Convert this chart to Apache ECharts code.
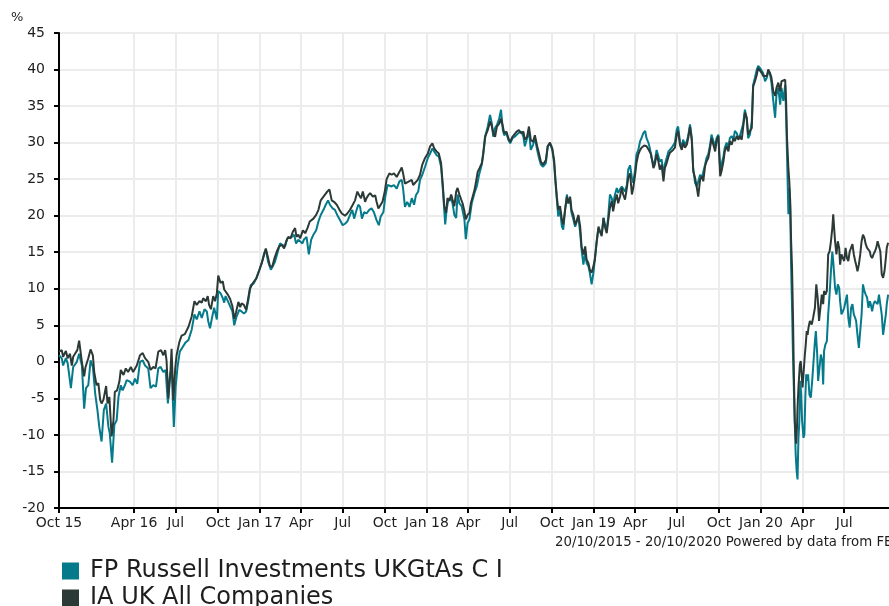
<!DOCTYPE html>
<html>
<head>
<meta charset="utf-8">
<script src="https://cdn.jsdelivr.net/npm/echarts@6/dist/echarts.min.js"></script>
<style>
html,body{margin:0;padding:0;background:#fff;overflow:hidden;}
/* the source picture is cut off a few pixels short of the plot's right end */
#chart{width:895px;height:606px;}
</style>
</head>
<body>
<div id="chart"></div>
<script>
// performance since 20/10/2015, points are [days since start, %]
var startDate = '2015-10-20';
var endDate = '2020-10-20';

var fundName = 'FP Russell Investments UKGtAs C I';
var sectorName = 'IA UK All Companies';

var fundPoints = [[0,0.9],[6,0.5],[9,-0.5],[15,0.5],[19,-0.2],[26,-3.6],[31,-0.7],[39,0],[44,1.1],[50,-0.5],[55,-6.4],[59,-3.6],[64,-3.2],[69,0.2],[74,-0.7],[79,-4.3],[84,-6.6],[88,-8.9],[93,-10.9],[98,-6.6],[103,-5.7],[108,-8.9],[111,-9.8],[116,-13.8],[121,-8.6],[126,-8.0],[130,-4.8],[135,-3.2],[139,-3.9],[144,-3.2],[148,-2.5],[155,-2.7],[161,-3.2],[166,-2.3],[171,-3.0],[177,0],[183,0.2],[188,-0.5],[195,-0.9],[200,-3.6],[206,-3.2],[212,-3.4],[217,-0.9],[222,-0.7],[228,-1.4],[233,-1.1],[238,-5.7],[241,-2.5],[246,-0.7],[251,-8.9],[255,-3.4],[259,-0.7],[264,1.4],[270,2.0],[276,2.6],[283,3.0],[290,4.4],[296,6.5],[301,5.8],[307,6.9],[312,6.0],[318,7.2],[323,6.9],[326,5.6],[330,4.6],[335,6.2],[339,7.4],[345,5.8],[348,9.7],[353,9.4],[358,8.7],[361,8.1],[364,9.0],[369,8.3],[374,7.6],[379,6.9],[383,5.0],[388,6.2],[394,7.1],[399,6.9],[404,6.6],[409,6.9],[414,8.5],[419,10.5],[425,10.7],[431,11.4],[438,12.6],[443,13.5],[448,14.8],[452,15.4],[457,13.7],[463,12.6],[467,12.6],[472,13.7],[477,14.8],[483,16.2],[488,16.0],[494,15.8],[499,16.9],[503,16.7],[509,17.1],[514,17.4],[518,16.2],[523,16.7],[527,16.9],[532,16.2],[535,16.7],[541,17.1],[546,14.7],[551,16.7],[556,17.4],[562,18.0],[567,19.2],[572,20.1],[578,20.8],[583,21.5],[588,22.1],[592,21.5],[598,21.0],[603,20.8],[608,20.1],[614,19.4],[620,18.7],[625,18.9],[630,19.2],[636,20.1],[641,20.8],[645,19.6],[649,20.5],[654,21.5],[658,21.2],[662,19.6],[667,20.5],[672,20.3],[678,20.8],[683,21.0],[688,20.5],[694,19.4],[699,18.7],[703,19.9],[709,20.5],[713,22.6],[718,24.2],[722,24.4],[727,24.0],[732,24.2],[738,23.7],[744,24.7],[749,24.9],[752,23.7],[756,21.2],[761,21.9],[766,21.2],[771,22.4],[776,21.5],[780,22.8],[785,23.3],[789,24.9],[794,25.6],[800,26.7],[806,27.9],[811,28.5],[816,29.2],[820,28.8],[825,28.3],[830,28.1],[835,26.7],[839,23.5],[844,18.8],[847,20.8],[851,22.2],[857,22.2],[860,21.7],[864,20.1],[868,19.7],[871,22.9],[875,21.7],[880,21.3],[886,19.5],[889,16.8],[893,19.0],[897,19.5],[902,21.7],[908,23.1],[913,24.0],[918,25.6],[924,27.0],[927,28.3],[932,31.0],[937,32.2],[942,33.8],[946,32.6],[949,30.8],[953,32.0],[957,32.4],[962,33.3],[966,34.5],[970,31.7],[973,31.0],[978,31.3],[982,30.4],[986,29.9],[991,30.6],[996,30.8],[1004,31.3],[1010,31.5],[1015,30.8],[1018,29.5],[1023,30.6],[1027,31.7],[1031,29.0],[1036,29.7],[1040,30.6],[1045,29.0],[1049,27.9],[1053,27.0],[1058,26.7],[1064,27.2],[1068,29.5],[1073,29.9],[1078,29.0],[1082,27.2],[1085,24.5],[1088,22.2],[1091,19.9],[1095,20.8],[1099,18.5],[1102,18.1],[1106,20.8],[1110,22.9],[1113,21.7],[1117,22.2],[1120,20.4],[1124,19.5],[1128,18.5],[1131,18.6],[1135,19.9],[1139,17.6],[1142,15.4],[1146,13.3],[1150,15.0],[1153,13.5],[1157,13.1],[1160,12.2],[1164,10.6],[1168,12.2],[1171,14.0],[1175,16.3],[1179,18.3],[1182,17.9],[1186,17.4],[1190,19.7],[1193,18.8],[1197,18.1],[1200,19.7],[1204,22.9],[1208,22.4],[1211,21.5],[1215,22.9],[1219,23.8],[1222,23.1],[1226,23.6],[1230,24.0],[1233,24.2],[1237,23.3],[1241,24.2],[1244,26.3],[1248,26.9],[1252,25.2],[1255,24.5],[1259,26.3],[1262,28.4],[1266,29.0],[1270,30.2],[1273,30.6],[1277,31.3],[1281,31.6],[1284,30.6],[1288,30.0],[1291,29.3],[1295,27.9],[1299,27.0],[1302,27.4],[1306,29.0],[1310,28.1],[1313,27.4],[1317,27.7],[1321,25.6],[1324,27.0],[1328,27.9],[1332,28.8],[1335,29.0],[1339,29.3],[1342,29.5],[1346,30.0],[1350,31.8],[1353,32.2],[1357,30.2],[1361,29.3],[1364,30.4],[1368,29.7],[1372,30.2],[1375,30.9],[1379,32.5],[1383,30.6],[1386,26.5],[1390,24.5],[1394,24.0],[1397,23.8],[1401,25.6],[1405,25.2],[1408,25.4],[1412,27.0],[1415,27.9],[1419,28.4],[1423,29.7],[1426,31.1],[1430,30.2],[1434,29.5],[1437,30.6],[1441,31.1],[1445,26.3],[1448,26.5],[1452,28.1],[1455,29.3],[1459,30.0],[1463,29.3],[1466,30.6],[1470,30.9],[1474,30.4],[1477,31.6],[1481,31.3],[1485,30.6],[1488,30.9],[1492,31.1],[1495,32.5],[1499,34.5],[1503,33.2],[1506,30.6],[1510,31.1],[1514,32.9],[1517,37.9],[1521,38.9],[1525,40.0],[1528,40.5],[1532,40.2],[1536,39.8],[1539,39.5],[1543,38.4],[1547,38.9],[1550,39.8],[1554,39.3],[1557,38.2],[1561,35.7],[1565,33.4],[1568,36.6],[1572,37.5],[1576,35.2],[1579,37.5],[1583,35.7],[1587,37.9],[1589,33.8],[1591,28.4],[1594,20.2],[1596,23.8],[1598,21.1],[1600,12.9],[1602,7.4],[1604,1.0],[1607,-6.3],[1610,-12.7],[1612,-14.9],[1614,-16.1],[1616,-10.4],[1618,-8.1],[1620,-2.6],[1622,-4.5],[1624,-8.1],[1627,-10.4],[1629,-9.9],[1631,-4.9],[1633,-1.7],[1635,-2.6],[1637,-1.7],[1640,-4.5],[1643,-4.9],[1646,-2.6],[1649,0.1],[1652,2.8],[1654,4.2],[1657,1.0],[1659,-2.6],[1662,-0.8],[1665,1.0],[1668,0.1],[1670,-3.1],[1672,1.5],[1675,2.4],[1678,2.8],[1681,6.5],[1684,9.2],[1687,12.4],[1690,15.1],[1692,13.8],[1694,12.0],[1696,10.1],[1699,9.2],[1702,10.6],[1705,10.1],[1707,8.3],[1710,6.5],[1713,6.9],[1716,7.4],[1719,8.3],[1722,9.2],[1725,6.0],[1728,4.7],[1731,7.4],[1734,7.9],[1737,6.5],[1740,6.0],[1742,5.6],[1745,3.7],[1748,1.9],[1751,4.2],[1754,6.5],[1757,10.6],[1760,9.7],[1763,9.2],[1766,8.8],[1769,7.4],[1772,8.3],[1774,7.9],[1777,6.9],[1780,7.9],[1783,8.3],[1786,8.1],[1789,7.9],[1792,9.2],[1795,9.4],[1798,6.5],[1801,3.7],[1804,5.1],[1807,6.5],[1809,7.9],[1812,9.2]];

var sectorPoints = [[0,1.4],[6,1.6],[9,0.7],[15,1.5],[19,0.5],[24,1.1],[28,-0.5],[31,0.7],[35,1.1],[40,1.6],[44,2.9],[50,0],[55,-2.0],[58,-0.7],[64,0.5],[69,1.7],[74,0.9],[77,-1.4],[82,-3.2],[86,-2.9],[90,-5.2],[93,-5.7],[97,-5.2],[103,-3.3],[106,-5.7],[110,-4.8],[115,-10.2],[119,-8.0],[122,-4.1],[127,-3.9],[132,-2.7],[135,-1.1],[141,-1.8],[146,-0.9],[151,-1.4],[157,-0.7],[162,-1.4],[170,-0.5],[177,0.9],[183,1.2],[188,0.5],[195,0],[200,-1.1],[206,-0.7],[211,-0.9],[217,1.4],[223,1.6],[228,0.9],[232,1.6],[235,0.2],[239,-5.0],[243,-2.0],[246,1.8],[250,-5.3],[254,-0.9],[257,0.9],[263,2.7],[268,3.6],[275,3.8],[283,4.8],[290,6.2],[296,8.3],[301,7.8],[307,8.3],[312,8.1],[315,8.7],[321,8.3],[325,9.0],[328,7.8],[332,7.2],[337,9.0],[341,8.3],[345,9.4],[348,11.8],[353,10.8],[358,11.0],[361,9.9],[365,10.1],[369,9.2],[374,8.6],[379,7.6],[383,5.9],[387,6.8],[392,8.2],[396,7.5],[399,8.0],[404,7.8],[409,7.1],[414,8.9],[417,10.0],[423,10.7],[431,11.4],[438,12.6],[443,13.5],[448,14.6],[452,15.5],[457,14.2],[461,13.1],[466,13.0],[471,14.2],[476,15.1],[481,15.8],[487,16.0],[492,15.5],[496,16.4],[501,17.1],[506,16.9],[511,17.8],[516,18.3],[519,17.1],[523,17.4],[527,16.9],[533,18.0],[538,17.6],[543,18.3],[548,19.2],[556,19.6],[562,20.1],[567,20.8],[572,22.1],[578,22.6],[585,23.2],[591,23.6],[596,22.1],[601,21.9],[607,21.5],[613,20.8],[618,20.3],[625,20.0],[630,20.3],[636,20.8],[642,21.5],[647,22.1],[652,23.3],[656,22.8],[660,22.4],[664,23.3],[669,21.9],[672,22.4],[676,22.8],[680,23.1],[686,22.6],[691,22.8],[694,21.9],[698,21.0],[703,21.5],[707,21.9],[712,23.3],[716,25.0],[722,25.8],[727,25.6],[732,25.8],[738,25.3],[744,26.0],[749,26.6],[752,25.8],[756,24.4],[760,24.2],[765,24.7],[771,24.9],[774,24.2],[778,24.2],[784,24.9],[789,25.6],[794,27.0],[800,27.9],[806,28.5],[811,29.5],[816,29.9],[820,29.2],[825,28.8],[830,28.5],[835,27.2],[839,24.0],[842,21.3],[846,20.4],[849,22.4],[853,22.0],[857,22.9],[860,22.2],[864,21.3],[868,23.3],[871,23.8],[875,22.9],[879,22.2],[882,21.7],[886,20.6],[889,19.5],[893,20.1],[897,20.4],[900,21.7],[904,22.6],[908,23.5],[911,24.5],[915,26.0],[919,26.5],[924,27.2],[927,28.5],[931,30.8],[937,31.7],[942,32.9],[946,32.2],[949,31.3],[953,30.8],[957,32.2],[962,32.6],[966,33.3],[970,32.2],[973,31.3],[978,31.5],[982,30.6],[986,30.1],[991,30.8],[995,31.0],[1000,31.5],[1005,31.7],[1010,31.3],[1015,31.5],[1018,30.4],[1023,30.8],[1027,32.2],[1031,30.4],[1036,30.1],[1040,31.0],[1045,29.5],[1049,28.5],[1053,27.4],[1058,27.0],[1064,27.6],[1068,29.5],[1073,30.0],[1078,29.2],[1082,27.6],[1085,24.9],[1088,22.6],[1091,20.8],[1095,21.3],[1099,19.5],[1102,18.8],[1106,20.8],[1110,22.6],[1113,21.7],[1117,22.6],[1120,20.8],[1124,20.1],[1128,18.8],[1131,19.2],[1135,20.1],[1139,18.5],[1142,15.8],[1146,14.7],[1150,15.8],[1153,14.0],[1157,13.5],[1160,12.6],[1164,12.2],[1168,13.1],[1171,14.0],[1175,16.5],[1179,18.5],[1182,17.9],[1186,17.2],[1190,19.7],[1193,18.5],[1197,17.6],[1200,19.2],[1204,21.1],[1208,22.0],[1211,20.6],[1215,22.0],[1219,22.9],[1222,21.7],[1226,22.6],[1230,23.8],[1233,22.9],[1237,22.2],[1241,23.8],[1244,25.2],[1248,25.8],[1252,22.9],[1255,23.8],[1259,25.6],[1262,27.2],[1266,28.4],[1270,29.0],[1273,29.3],[1279,29.6],[1284,29.5],[1289,29.0],[1294,28.4],[1299,26.5],[1302,27.0],[1306,28.4],[1310,27.4],[1313,26.3],[1317,27.0],[1321,24.7],[1324,26.5],[1328,27.2],[1332,28.1],[1335,28.6],[1339,28.4],[1342,29.0],[1346,29.3],[1350,31.1],[1353,31.6],[1357,29.7],[1361,29.0],[1364,30.0],[1368,29.3],[1372,29.7],[1375,30.6],[1379,32.2],[1383,30.2],[1386,26.1],[1390,25.2],[1394,23.8],[1397,22.6],[1401,24.9],[1405,25.4],[1408,24.7],[1412,26.8],[1415,27.4],[1419,27.9],[1423,29.3],[1426,30.6],[1430,29.7],[1434,28.8],[1437,30.2],[1441,30.9],[1445,25.4],[1448,26.1],[1452,27.4],[1455,28.8],[1459,29.5],[1463,28.8],[1466,30.2],[1470,29.7],[1474,30.6],[1477,30.2],[1481,30.9],[1485,30.4],[1488,30.9],[1492,30.4],[1495,32.0],[1499,34.1],[1503,33.4],[1506,31.1],[1510,31.6],[1514,32.0],[1517,37.7],[1521,38.4],[1525,39.3],[1528,40.2],[1532,40.0],[1536,39.5],[1539,39.1],[1543,38.9],[1547,39.1],[1550,40.0],[1554,39.5],[1557,38.9],[1561,37.0],[1565,36.4],[1568,37.5],[1572,38.2],[1576,37.0],[1579,38.4],[1583,38.2],[1587,38.6],[1589,35.7],[1591,30.7],[1594,26.5],[1596,24.7],[1598,22.0],[1600,16.5],[1602,12.9],[1604,6.5],[1606,-1.7],[1608,-8.1],[1611,-11.2],[1613,-8.6],[1614,-6.3],[1616,-3.5],[1619,-0.4],[1621,0.1],[1623,-1.7],[1625,-3.5],[1627,-1.7],[1630,1.0],[1632,2.4],[1634,4.2],[1636,3.7],[1638,4.7],[1641,5.6],[1645,5.1],[1648,6.0],[1652,7.4],[1655,10.6],[1658,8.8],[1661,5.6],[1664,7.4],[1667,9.2],[1670,7.9],[1672,9.7],[1675,9.2],[1678,9.7],[1681,14.7],[1684,15.1],[1687,16.5],[1690,18.3],[1692,20.2],[1694,18.3],[1696,16.5],[1699,14.7],[1702,16.5],[1705,15.6],[1707,13.3],[1710,14.7],[1713,14.2],[1716,13.8],[1719,15.6],[1722,14.2],[1725,13.8],[1728,15.1],[1731,15.6],[1734,16.1],[1737,14.7],[1740,13.8],[1742,13.3],[1745,12.4],[1748,13.3],[1751,14.7],[1754,16.5],[1757,17.4],[1760,17.0],[1763,16.1],[1766,15.6],[1769,15.8],[1772,15.1],[1774,14.5],[1777,14.2],[1780,14.7],[1783,15.1],[1786,15.6],[1789,16.5],[1792,16.5],[1795,15.1],[1798,12.0],[1801,11.5],[1804,12.4],[1807,14.2],[1809,15.6],[1812,16.3]];

// quarterly ticks on the x axis
var tickDates = ['2015-10-20','2016-04-01','2016-07-01','2016-10-01','2017-01-01','2017-04-01','2017-07-01','2017-10-01','2018-01-01','2018-04-01','2018-07-01','2018-10-01','2019-01-01','2019-04-01','2019-07-01','2019-10-01','2020-01-01','2020-04-01','2020-07-01'];
var tickLabels = ['Oct 15','Apr 16','Jul','Oct','Jan 17','Apr','Jul','Oct','Jan 18','Apr','Jul','Oct','Jan 19','Apr','Jul','Oct','Jan 20','Apr','Jul'];

var DAY = 86400000;
var startTime = new Date(startDate).getTime();
function dayOf(d) { return Math.round((new Date(d).getTime() - startTime) / DAY); }
var tickDays = tickDates.map(dayOf);

var font = 'DejaVu Sans';
var textColor = '#1e1e1e';

var option = {
    backgroundColor: '#fff',
    animation: false,
    textStyle: { fontFamily: font },
    color: ['#057a8b', '#2c3a37'],
    grid: {
        left: 59,
        right: 0,
        top: 33,
        height: 475
    },
    legend: {
        orient: 'vertical',
        left: 62,
        top: 559,
        height: 60,
        padding: 0,
        icon: 'rect',
        itemWidth: 17,
        itemHeight: 17,
        itemGap: 3,
        textStyle: { fontSize: 24, lineHeight: 24, color: textColor, fontFamily: font, padding: [0, 0, 0, 6] },
        data: [fundName, sectorName]
    },
    xAxis: {
        type: 'value',
        min: 0,
        max: dayOf(endDate),
        axisLine: { onZero: false, lineStyle: { color: '#000', width: 2 } },
        axisTick: { show: true, length: 5, lineStyle: { color: '#000', width: 2 }, customValues: tickDays },
        axisLabel: {
            customValues: tickDays,
            color: textColor,
            fontSize: 14,
            margin: 8,
            formatter: function (val) {
                var i = tickDays.indexOf(val);
                return i >= 0 ? tickLabels[i] : '';
            }
        },
        splitLine: { show: true, lineStyle: { color: '#ececec', width: 2 } }
    },
    yAxis: {
        type: 'value',
        min: -20,
        max: 45,
        interval: 5,
        axisLine: { show: true, onZero: false, lineStyle: { color: '#000', width: 2 } },
        axisTick: { show: true, length: 5, lineStyle: { color: '#000', width: 2 } },
        axisLabel: { color: textColor, fontSize: 14, margin: 14 },
        splitLine: { show: true, lineStyle: { color: '#ececec', width: 2 } }
    },
    graphic: [
        { type: 'text', left: 11, top: 11, style: { text: '%', fontSize: 13, fill: textColor, fontFamily: font } },
        { type: 'text', left: 555, top: 536, style: { text: '20/10/2015 - 20/10/2020 Powered by data from FE', fontSize: 13.3, fill: textColor, fontFamily: font } }
    ],
    series: [
        {
            name: fundName,
            type: 'line',
            showSymbol: false,
            symbol: 'none',
            lineStyle: { width: 2 },
            data: fundPoints
        },
        {
            name: sectorName,
            type: 'line',
            showSymbol: false,
            symbol: 'none',
            lineStyle: { width: 2 },
            data: sectorPoints
        }
    ]
};

var myChart = echarts.init(document.getElementById('chart'));
myChart.setOption(option);
</script>
</body>
</html>
